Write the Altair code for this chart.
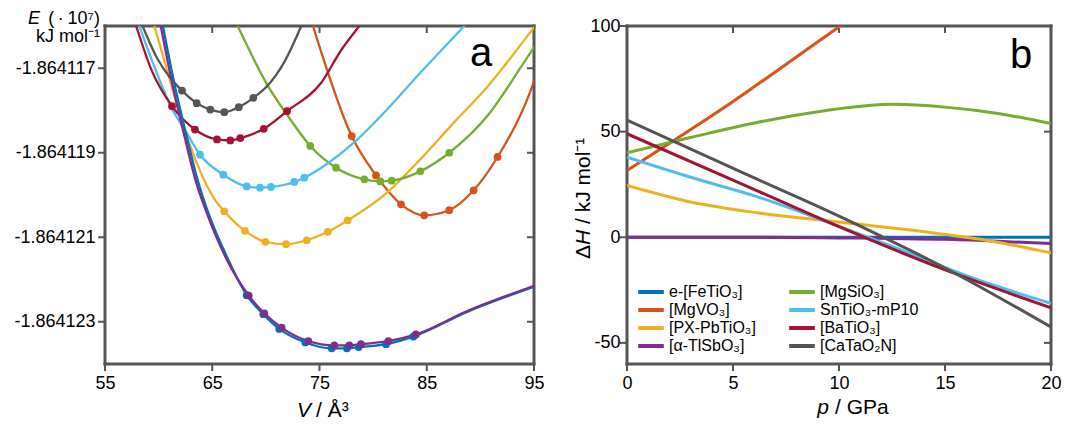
import altair as alt
import pandas as pd

FONT = "Liberation Sans"
TS = "\u2009"
INK = "#555555"

SERIES = ["e-[FeTiO₃]", "[MgVO₃]", "[PX-PbTiO₃]", "[α-TlSbO₃]",
          "[MgSiO₃]", "SnTiO₃-mP10", "[BaTiO₃]", "[CaTaO₂N]"]
COLORS = ["#0072BD", "#D95319", "#EDB120", "#7E2F8E",
          "#77AC30", "#4DBEEE", "#A2142F", "#555555"]
FRAME = "frame"

# ---------------- panel a : E(V) curves (E in 10^7 kJ/mol) ----------------
A_X_DOMAIN = [55, 95]
A_Y_DOMAIN = [-1.864124, -1.864116]
A_X_TICKS = [55, 65, 75, 85, 95]
A_Y_TICKS = [-1.864117, -1.864119, -1.864121, -1.864123]

CA_V = [58.0, 58.5, 59.9, 61.15, 62.18, 63.55, 64.82, 66.12, 67.47, 68.83, 70.17, 71.7, 73.3, 73.8]
CA_E = [-1.8641157, -1.864116, -1.86411678, -1.86411725, -1.864117529, -1.864117826, -1.864117978,
        -1.864118039, -1.864117921, -1.864117701, -1.86411741, -1.86411686, -1.864116, -1.8641157]
CA_DV = [62.18, 63.55, 64.82, 66.12, 67.47, 68.83]
CA_DE = [-1.864117529, -1.864117826, -1.864117978, -1.864118039, -1.864117921, -1.864117701]

BA_V = [57.5, 57.9, 59.3, 61.25, 63.39, 65.44, 66.68, 67.62, 69.8, 71.97, 75.14, 77.0, 78.7, 79.2]
BA_E = [-1.8641157, -1.864116, -1.86411702, -1.864117897, -1.86411845, -1.864118686, -1.86411871,
        -1.864118653, -1.864118433, -1.864118015, -1.86411735, -1.86411658, -1.864116, -1.86411583]
BA_DV = [61.25, 63.39, 65.44, 66.68, 67.62, 69.8, 71.97]
BA_DE = [-1.864117897, -1.86411845, -1.864118686, -1.86411871, -1.864118653, -1.864118433, -1.864118015]

SN_V = [57.8, 58.2, 59.7, 61.25, 62.55, 63.86, 66.03, 68.21, 69.45, 70.48, 72.65, 73.58, 75.14,
        78.25, 81.36, 84.46, 88.5, 89.5]
SN_E = [-1.8641157, -1.864116, -1.86411703, -1.86411796, -1.8641185, -1.864119047, -1.86411952,
        -1.864119796, -1.864119826, -1.86411981, -1.864119692, -1.86411959, -1.86411936,
        -1.86411875, -1.86411796, -1.86411709, -1.864116, -1.86411573]
SN_DV = [63.86, 66.03, 68.21, 69.45, 70.48, 72.65, 73.58]
SN_DE = [-1.864119047, -1.86411952, -1.864119796, -1.864119826, -1.86411981, -1.864119692, -1.86411959]

PX_V = [59.2, 59.6, 60.85, 62.1, 63.64, 65.19, 66.12, 68.05, 69.95, 71.88, 73.81, 75.77, 77.63,
        81.36, 84.46, 87.57, 90.68, 94.7, 95.5]
PX_E = [-1.86411565, -1.864116, -1.8641171, -1.8641182, -1.8641193, -1.86412009, -1.864120386,
        -1.864120849, -1.864121109, -1.864121165, -1.864121071, -1.864120872, -1.864120599,
        -1.86411993, -1.86411914, -1.864118275, -1.86411743, -1.86411613, -1.86411586]
PX_DV = [66.12, 68.05, 69.95, 71.88, 73.81, 75.77, 77.63]
PX_DE = [-1.864120386, -1.864120849, -1.864121109, -1.864121165, -1.864121071, -1.864120872, -1.864120599]

MS_V = [66.8, 67.37, 70.17, 72.03, 74.14, 76.54, 79.18, 80.67, 81.73, 84.4, 87.1, 90.68, 93.79, 95.0, 95.6]
MS_E = [-1.8641157, -1.864116, -1.86411741, -1.86411812, -1.86411884, -1.864119354, -1.86411963,
        -1.864119678, -1.86411966, -1.86411944, -1.864119, -1.86411812, -1.86411697, -1.8641165, -1.86411625]
MS_DV = [74.14, 76.54, 79.18, 80.67, 81.73, 84.4, 87.1]
MS_DE = [-1.86411884, -1.864119354, -1.86411963, -1.864119678, -1.86411966, -1.86411944, -1.864119]

MV_V = [74.0, 74.4, 75.14, 78.0, 80.27, 82.6, 84.77, 87.1, 89.37, 91.6, 95.0, 95.6]
MV_E = [-1.86411565, -1.864116, -1.8641166, -1.864118606, -1.864119536, -1.86412022, -1.86412048,
        -1.86412036, -1.86411989, -1.8641191, -1.86411731, -1.86411685]
MV_DV = [78.0, 80.27, 82.6, 84.77, 87.1, 89.37, 91.6]
MV_DE = [-1.864118606, -1.864119536, -1.86412022, -1.86412048, -1.86412036, -1.86411989, -1.8641191]

FE_V = [60.1, 60.4, 61.5, 62.6, 63.7, 64.6, 66.44, 68.21, 69.76, 71.25, 73.68, 76.14, 77.56, 78.65,
        81.2, 83.75, 88.82, 95.0, 96.0]
FE_E = [-1.8641156, -1.864116, -1.8641174, -1.8641186, -1.8641197, -1.8641204, -1.8641215,
        -1.86412237, -1.86412282, -1.86412317, -1.86412349, -1.86412363, -1.86412363, -1.8641236,
        -1.86412353, -1.86412335, -1.86412276, -1.86412217, -1.86412208]
FE_DV = [68.21, 69.76, 71.25, 73.68, 76.14, 77.56, 78.65, 81.2, 83.75]
FE_DE = [-1.86412237, -1.86412282, -1.86412317, -1.86412349, -1.86412363, -1.86412363, -1.8641236,
         -1.86412353, -1.86412335]

TL_V = [59.9, 60.2, 61.3, 62.4, 63.5, 64.45, 66.3, 68.4, 69.86, 71.47, 73.96, 76.38, 77.78, 78.87,
        81.42, 83.99, 88.82, 95.0, 96.0]
TL_E = [-1.8641156, -1.864116, -1.8641174, -1.8641186, -1.8641197, -1.8641204, -1.8641215,
        -1.86412238, -1.8641228, -1.86412314, -1.86412346, -1.86412356, -1.86412356, -1.86412353,
        -1.86412346, -1.8641233, -1.86412274, -1.86412215, -1.86412206]
TL_DV = [68.4, 69.86, 71.47, 73.96, 76.38, 77.78, 78.87, 81.42, 83.99]
TL_DE = [-1.86412238, -1.8641228, -1.86412314, -1.86412346, -1.86412356, -1.86412356, -1.86412353,
         -1.86412346, -1.8641233]

# ---------------- panel b : dH(p) ----------------
B_X_DOMAIN = [0, 20]
B_Y_DOMAIN = [-60, 100]
B_X_TICKS = [0, 5, 10, 15, 20]
B_Y_TICKS = [-50, 0, 50, 100]

FE_P = [0, 20];                               FE_H = [0, 0]
MV_P = [0, 4.6, 9.93, 11];                    MV_H = [31.6, 61.5, 99.1, 106.5]
PX_P = [0, 3, 6.2, 10, 14.75, 17.4, 20];      PX_H = [24.5, 16.7, 11.5, 7.2, 1.7, -2.2, -7.4]
TL_P = [0, 5, 8, 10, 12.5, 15, 17.5, 20];     TL_H = [0, 0, -0.1, -0.3, -0.6, -1.0, -1.9, -3.0]
MS_P = [0, 3.04, 6.18, 9.33, 12.55, 15, 17.5, 20]
MS_H = [40.0, 47.3, 54.4, 59.9, 62.9, 61.6, 58.6, 53.8]
SN_P = [0, 3, 6.2, 9.3, 12.5, 16.3, 20];      SN_H = [37.9, 28.4, 19.0, 7.8, -4.3, -19.3, -31.3]
BA_P = [0, 5.4, 10, 15.2, 20];                BA_H = [49.0, 25.3, 5.0, -16.2, -33.4]
CA_P = [0, 5.4, 10, 15.2, 20];                CA_H = [55.5, 30.8, 10.0, -15.6, -42.5]

WA, WB, HH = 429, 424, 338
TICK_PX = 6

# ---------------- assemble tables ----------------
a_curves = [(1, MV_V, MV_E), (2, PX_V, PX_E), (4, MS_V, MS_E), (5, SN_V, SN_E),
            (6, BA_V, BA_E), (7, CA_V, CA_E), (0, FE_V, FE_E), (3, TL_V, TL_E)]
a_dots = [(1, MV_DV, MV_DE), (2, PX_DV, PX_DE), (4, MS_DV, MS_DE), (5, SN_DV, SN_DE),
          (6, BA_DV, BA_DE), (7, CA_DV, CA_DE), (0, FE_DV, FE_DE), (3, TL_DV, TL_DE)]
b_curves = [(0, FE_P, FE_H), (3, TL_P, TL_H), (2, PX_P, PX_H), (1, MV_P, MV_H), (4, MS_P, MS_H),
            (5, SN_P, SN_H), (6, BA_P, BA_H), (7, CA_P, CA_H)]


def table(items, xname, yname, w):
    rows = []
    for k, (i, xs, ys) in enumerate(items):
        for o, (x, y) in enumerate(zip(xs, ys)):
            rows.append({xname: x, yname: y, "s": SERIES[i], "k": k, "o": o, "w": w})
    return pd.DataFrame(rows)


def decor(xname, yname, xd, yd, xt, yt, W, H):
    """plot box and inward/outward tick segments, expressed on the panel's scales"""
    dx = TICK_PX * (xd[1] - xd[0]) / W
    dy = TICK_PX * (yd[1] - yd[0]) / H
    segs = [((xd[0], yd[1]), (xd[1], yd[1]), 3), ((xd[0], yd[0]), (xd[1], yd[0]), 3),
            ((xd[0], yd[0]), (xd[0], yd[1]), 3), ((xd[1], yd[0]), (xd[1], yd[1]), 3)]
    for v in xt:
        segs += [((v, yd[1]), (v, yd[1] - dy), 2), ((v, yd[0]), (v, yd[0] - dy), 2)]
    for v in yt:
        segs += [((xd[0], v), (xd[0] - dx, v), 2), ((xd[1], v), (xd[1] - dx, v), 2)]
    rows = []
    for g, (p1, p2, w) in enumerate(segs):
        for o, (x, y) in enumerate([p1, p2]):
            rows.append({xname: x, yname: y, "s": FRAME, "k": 100 + g, "o": o, "w": w})
    return pd.DataFrame(rows)


df_a = table(a_curves, "V", "E", 2.3)
df_ad = table(a_dots, "V", "E", 0)
df_b = table(b_curves, "p", "H", 3)
deco_a = decor("V", "E", A_X_DOMAIN, A_Y_DOMAIN, A_X_TICKS, A_Y_TICKS, WA, HH)
deco_b = decor("p", "H", B_X_DOMAIN, B_Y_DOMAIN, B_X_TICKS, B_Y_TICKS, WB, HH)

CDOM = SERIES + [FRAME]
CRNG = COLORS + [INK]


def axis(values, fmt=None, pad=10):
    kw = dict(values=values, title=None, grid=False, domain=False, ticks=False,
              labelFont=FONT, labelFontSize=18, labelColor="black",
              labelPadding=pad, labelFlush=False, labelOverlap=False)
    if fmt:
        kw["labelExpr"] = "replace(format(datum.value, '%s'), '\u2212', '-')" % fmt
    return alt.Axis(**kw)


XA = alt.X("V:Q", scale=alt.Scale(domain=A_X_DOMAIN, nice=False, zero=False), axis=axis(A_X_TICKS))
YA = alt.Y("E:Q", scale=alt.Scale(domain=A_Y_DOMAIN, nice=False, zero=False),
           axis=axis(A_Y_TICKS, ".6f", 10))
XB = alt.X("p:Q", scale=alt.Scale(domain=B_X_DOMAIN, nice=False, zero=False), axis=axis(B_X_TICKS))
YB = alt.Y("H:Q", scale=alt.Scale(domain=B_Y_DOMAIN, nice=False, zero=False),
           axis=axis(B_Y_TICKS, "d", 7))


def text(txt, x, y, size=18, style="normal", align="left", angle=0):
    kw = dict(align=align, baseline="alphabetic", fontSize=size, font=FONT, fontStyle=style,
              color="black")
    if angle:
        kw["angle"] = angle
    return alt.Chart(alt.Data(values=[{"t": txt}])).mark_text(**kw).encode(
        x=alt.value(x), y=alt.value(y), text="t:N")


LEG_B = alt.Legend(title=None, orient="none", legendX=14, legendY=256, values=SERIES,
                   columns=2, columnPadding=25, rowPadding=0, padding=0,
                   symbolType="M-1.6,0H1.6", symbolSize=256, symbolStrokeWidth=4,
                   labelFont=FONT, labelFontSize=16, labelColor="black", labelOffset=8)


def colour(legend):
    return alt.Color("s:N", scale=alt.Scale(domain=CDOM, range=CRNG), legend=legend)


# ---------------- panel a ----------------
a_deco = alt.Chart(deco_a).mark_line(strokeCap="square").encode(
    x=XA, y=YA, color=colour(None),
    strokeWidth=alt.StrokeWidth("w:Q", scale=None),
    detail="k:N", order="o:Q")
a_lines = alt.Chart(df_a).mark_line(clip=True, interpolate="monotone").encode(
    x=XA, y=YA, color=colour(None),
    strokeWidth=alt.StrokeWidth("w:Q", scale=None),
    detail="k:N", order="o:Q")
a_pts = alt.Chart(df_ad).mark_circle(clip=True, size=60, opacity=1).encode(
    x=XA, y=YA, color=colour(None))

panel_a = alt.layer(
    a_deco, a_lines, a_pts,
    text("E", -77, -2, 18, "italic"),
    text("(" + TS + "·" + TS + "10⁷)", -5, -2, 18, align="right"),
    text("kJ mol⁻¹", -5, 16, 18, align="right"),
    text("V", 206, 391, 21, "italic", align="right"),
    text("/ Å³", 211, 391, 21),
    text("a", 376, 40, 40, align="center"),
).properties(width=WA, height=HH)

# ---------------- panel b ----------------
b_deco = alt.Chart(deco_b).mark_line(strokeCap="square").encode(
    x=XB, y=YB, color=colour(LEG_B),
    strokeWidth=alt.StrokeWidth("w:Q", scale=None),
    detail="k:N", order="o:Q")
b_lines = alt.Chart(df_b).mark_line(clip=True, interpolate="monotone").encode(
    x=XB, y=YB, color=colour(LEG_B),
    strokeWidth=alt.StrokeWidth("w:Q", scale=None),
    detail="k:N", order="o:Q")

panel_b = alt.layer(
    b_deco, b_lines,
    text("Δ", -37, 233, 21, angle=270),
    text("H", -37, 219, 21, "italic", angle=270),
    text("/ kJ mol⁻¹", -37, 198, 21, angle=270),
    text("p", 202, 388, 21, "italic", align="right"),
    text("/ GPa", 208, 388, 21),
    text("b", 394, 42, 40, align="center"),
).properties(width=WB, height=HH)

chart = alt.hconcat(panel_a, panel_b, spacing=28,
                    padding={"left": 5, "top": 2, "right": 0, "bottom": 0}).resolve_scale(
    color="independent").configure_view(stroke=None)

chart.save("out.html", embed_options={"renderer": "svg", "actions": False})
